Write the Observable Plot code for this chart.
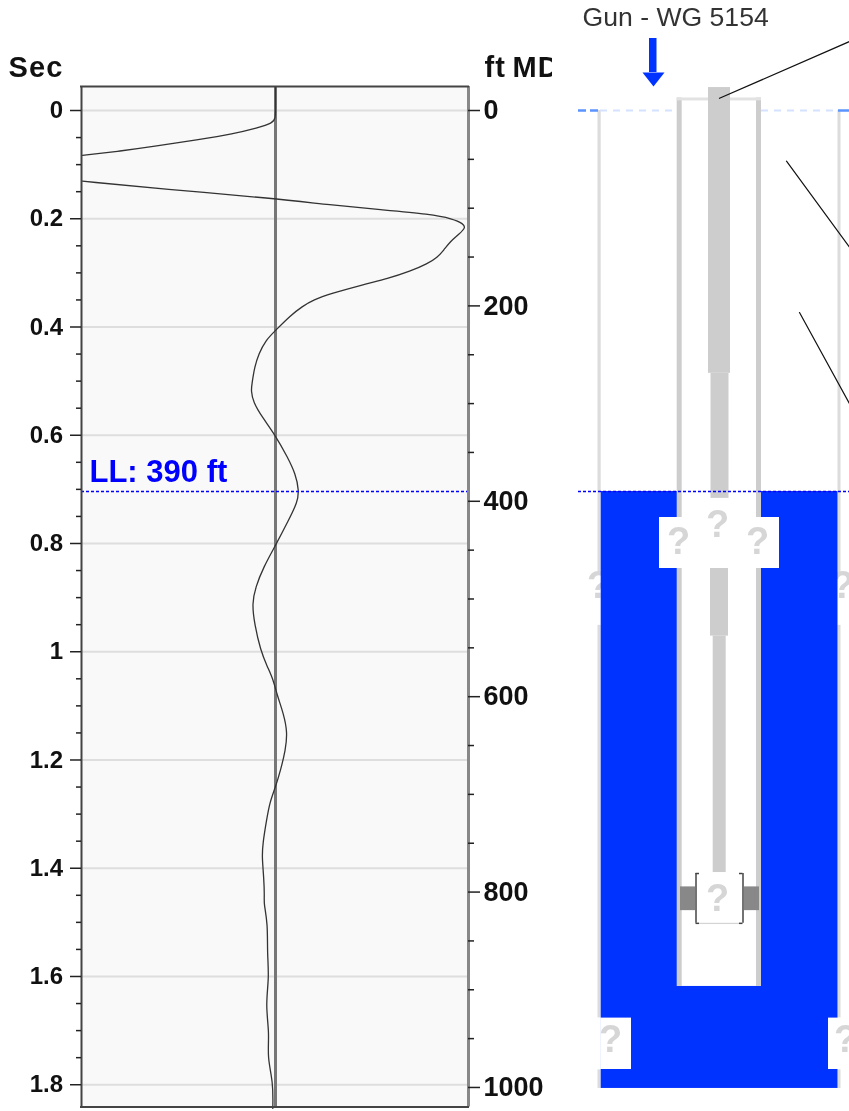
<!DOCTYPE html>
<html><head><meta charset="utf-8">
<script src="https://cdn.jsdelivr.net/npm/d3@7"></script>
<script src="https://cdn.jsdelivr.net/npm/@observablehq/plot@0.6"></script>
<style>html,body{margin:0;padding:0;background:#fff}svg{display:block;filter:blur(0.35px)}.hdr text{letter-spacing:1.2px;word-spacing:-3px}</style>
</head><body><div id="chart"></div>
<script>
// Two-way time/depth relation
const ftPerSec = 554;
const secLabels = [0,0.2,0.4,0.6,0.8,1,1.2,1.4,1.6,1.8];
const secMinor = [0.05,0.1,0.15,0.25,0.3,0.35,0.45,0.5,0.55,0.65,0.7,0.75,0.85,0.9,0.95,1.05,1.1,1.15,1.25,1.3,1.35,1.45,1.5,1.55,1.65,1.7,1.75,1.85];
const ftLabels = [0,200,400,600,800,1000];
const ftMinor = [50,100,150,250,300,350,450,500,550,650,700,750,850,900,950];
const fluidLevelFt = 390;

// Acoustic trace: two pieces, the signal leaves the panel between them
const traceASec = [-0.044,0,0.0136,0.0234,0.032,0.043,0.054,0.066,0.075,0.083];
const traceAAmp = [0,0,0,-2.9,-18,-42,-78,-120,-155,-193];
const traceBSec = [0.1306,0.145,0.1626,0.1746,0.1832,0.1916,0.2,0.2093,0.2167,0.2278,0.2415,0.2586,0.271,0.2832,0.2969,0.3109,0.3214,0.3386,0.3497,0.3621,0.3787,0.4064,0.4249,0.4495,0.4742,0.5049,0.5173,0.5389,0.5666,0.6004,0.6405,0.6712,0.702,0.7236,0.7574,0.8036,0.8437,0.8807,0.9113,0.9483,0.9976,1.0284,1.0512,1.0807,1.114,1.1485,1.1823,1.2193,1.2501,1.2778,1.3116,1.3541,1.3794,1.4164,1.4533,1.465,1.502,1.5574,1.6011,1.6534,1.7052,1.7489,1.7951,1.8437];
const traceBAmp = [-193,-112,0,55,105,155,177,188,190,184,175,168,162,152,135,112,88,55,38,26.7,15,0,-10,-16.7,-21,-23.5,-24.5,-22.3,-13.3,0,12,20,23.5,22,13,0,-12,-20,-23.5,-21,-15,-8,-2.3,1.7,8,12,10,5,0,-5.7,-9,-12.7,-13.5,-11.7,-11,-11.7,-7.7,-8.3,-6.3,-10,-6,-8.3,-2.3,-2.7];

// Schematic parts: [x1, x2, top ft, bottom ft]
const walls = [[597.5,600.7,0,474],[597.5,600.7,527,929],[597.5,600.7,982,1001],[837.5,840.5,0,474],[837.5,840.5,527,929],[837.5,840.5,982,1001]];
const fluid = [[600.7,837.5,390,1001]];
const bore = [[677,761,390,896.6]];
const notches = [[659,779,416.6,468.8],[600.7,631,929,981.6],[828,840.5,929,981.6],[595,600.7,929,981.6]];
const casing = [[676.7,681.7,-12.8,896.6],[756,761,-12.8,896.6]];
const casingTop = [[676.7,761,-12.8,-9.8]];
const tubing = [[708,730,-23.5,269],[710.5,728.5,269,397],[710,728,450,538],[712.7,725.7,538,780]];
const gunBlocks = [[680,695,794.7,819],[744,759,794.7,819]];
const gunBody = [[699,739,781,832]];
const brackets = [[695.5,781,832],[742.5,781,832]];
const bracketFeet = [[695.5,699,781],[695.5,699,832],[739,742.5,781],[739,742.5,832]];
const unknowns = [[598,487],[842,487],[678,441],[717,424],[757,441],[610,951],[845,951],[717,807]];
const callouts = [[[719,-12.5],[849,-70.6]],[[786,51.9],[849,140]],[[799,206.8],[849,300]]];
const arrowShaft = [[649,656.5,-73.7,-38.9]];
const arrowHead = [[642,-38.9],[664,-38.9],[653,-24.6],[642,-38.9]];

const panel = {x1:81,x2:468,center:275};
const toRows = a => a.map(([x1,x2,y1,y2]) => ({x1,x2,y1,y2}));
const box = (a,fill) => Plot.rect(toRows(a),{x1:"x1",x2:"x2",y1:"y1",y2:"y2",fill});
const secY = s => s*ftPerSec;
const segA = traceASec.map((s,i)=>({y:secY(s),x:panel.center+traceAAmp[i]}));
const segB = traceBSec.map((s,i)=>({y:secY(s),x:panel.center+traceBAmp[i]}));
const topFt = -24.6, botFt = 1020;
const font = "Liberation Sans, Arial, sans-serif";
const q = {text:()=>"?",x:d=>d[0],y:d=>d[1],fill:"#d6d6d6",fontSize:38,fontWeight:"bold",fontFamily:font};

const marks = [
  // left panel
  Plot.rect([0],{x1:panel.x1,x2:panel.x2,y1:topFt,y2:botFt,fill:"#f9f9f9"}),
  Plot.ruleY(secLabels,{y:secY,x1:panel.x1,x2:panel.x2,stroke:"#dedede",strokeWidth:2}),
  Plot.ruleX([panel.center],{y1:topFt,y2:botFt,stroke:"#777",strokeWidth:3}),
  Plot.line(segA,{x:"x",y:"y",stroke:"#333",strokeWidth:1.3,curve:"basis"}),
  Plot.line(segB,{x:"x",y:"y",stroke:"#333",strokeWidth:1.3,curve:"basis"}),
  Plot.ruleY([fluidLevelFt],{x1:panel.x1,x2:panel.x2,stroke:"#0000ff",strokeWidth:1.5,strokeDasharray:"3,2"}),
  Plot.ruleX([panel.x1],{y1:topFt,y2:botFt,stroke:"#444",strokeWidth:2}),
  Plot.ruleX([panel.x2],{y1:topFt,y2:botFt,stroke:"#888",strokeWidth:3}),
  Plot.ruleY([topFt],{x1:panel.x1-1,x2:panel.x2+1,stroke:"#444",strokeWidth:2}),
  Plot.ruleY([botFt],{x1:panel.x1-1,x2:panel.x2+1,stroke:"#444",strokeWidth:2}),
  // axes
  Plot.ruleY(secLabels,{y:secY,x1:70,x2:81,stroke:"#222",strokeWidth:1.5}),
  Plot.ruleY(secMinor,{y:secY,x1:76,x2:81,stroke:"#222",strokeWidth:1.5}),
  Plot.ruleY(ftLabels,{x1:468,x2:480,stroke:"#222",strokeWidth:1.5}),
  Plot.ruleY(ftMinor,{x1:468,x2:474,stroke:"#222",strokeWidth:1.5}),
  Plot.text(secLabels,{y:secY,x:62.5,text:d=>String(d),textAnchor:"end",fontSize:24,fontWeight:"bold",fontFamily:font,fill:"#111"}),
  Plot.text(ftLabels,{y:d=>d,x:483,text:d=>String(d),textAnchor:"start",fontSize:27,fontWeight:"bold",fontFamily:font,fill:"#111"}),
  Plot.text(["Sec"],{x:8,y:-43.5,text:d=>d,textAnchor:"start",fontSize:29,fontWeight:"bold",fontFamily:font,fill:"#111",className:"hdr"}),
  Plot.text(["ft MD"],{x:484,y:-43.5,text:d=>d,textAnchor:"start",fontSize:29,fontWeight:"bold",fontFamily:font,fill:"#111",className:"hdr"}),
  Plot.rect([0],{x1:552,x2:572,y1:-70,y2:-20,fill:"#fff"}),
  Plot.text(["LL: "+fluidLevelFt+" ft"],{x:89,y:fluidLevelFt-20,text:d=>d,textAnchor:"start",fontSize:31,fontWeight:"bold",fontFamily:font,fill:"#0000ff"}),
  // schematic
  box(walls,"#dcdcdc"),
  Plot.text(unknowns.slice(0,2),q),
  Plot.ruleY([0],{x1:600,x2:677,stroke:"#d4e2ff",strokeWidth:2,strokeDasharray:"7,6"}),
  Plot.ruleY([0],{x1:761,x2:838,stroke:"#d4e2ff",strokeWidth:2,strokeDasharray:"7,6"}),
  Plot.ruleY([0],{x1:578,x2:600,stroke:"#5b93ff",strokeWidth:2.5,strokeDasharray:"8,4"}),
  Plot.ruleY([0],{x1:838,x2:849,stroke:"#5b93ff",strokeWidth:2.5}),
  box(fluid,"#0033ff"),
  box(bore,"#fff"),
  box(casing,"#cdcdcd"),
  box(casingTop,"#e2e2e2"),
  box(tubing,"#cdcdcd"),
  box(notches,"#fff"),
  Plot.ruleY([fluidLevelFt],{x1:578,x2:849,stroke:"#0000ff",strokeWidth:1.5,strokeDasharray:"3,2"}),
  box(gunBlocks,"#888"),
  box(gunBody,"#fff"),
  Plot.ruleY([832],{x1:699,x2:739,stroke:"#ccc",strokeWidth:1}),
  Plot.ruleX(brackets,{x:d=>d[0],y1:d=>d[1],y2:d=>d[2],stroke:"#444",strokeWidth:1.5}),
  Plot.ruleY(bracketFeet,{x1:d=>d[0],x2:d=>d[1],y:d=>d[2],stroke:"#444",strokeWidth:1.5}),
  Plot.text(unknowns.slice(2),q),
  ...callouts.map(c=>Plot.line(c,{x:d=>d[0],y:d=>d[1],stroke:"#111",strokeWidth:1.2})),
  box(arrowShaft,"#0033ff"),
  Plot.line(arrowHead,{x:d=>d[0],y:d=>d[1],fill:"#0033ff",stroke:"none"}),
  Plot.text(["Gun - WG 5154"],{x:582,y:-95,text:d=>d,textAnchor:"start",fontSize:26.6,fontFamily:font,fill:"#333"})
];

document.getElementById("chart").append(Plot.plot({
  width:849,height:1111,margin:0,
  style:{background:"#fff",overflow:"hidden"},
  x:{axis:null,domain:[0,849],range:[0,849]},
  y:{axis:null,domain:[-112.6,1024.6],range:[0,1111]},
  marks
}));
</script></body></html>
